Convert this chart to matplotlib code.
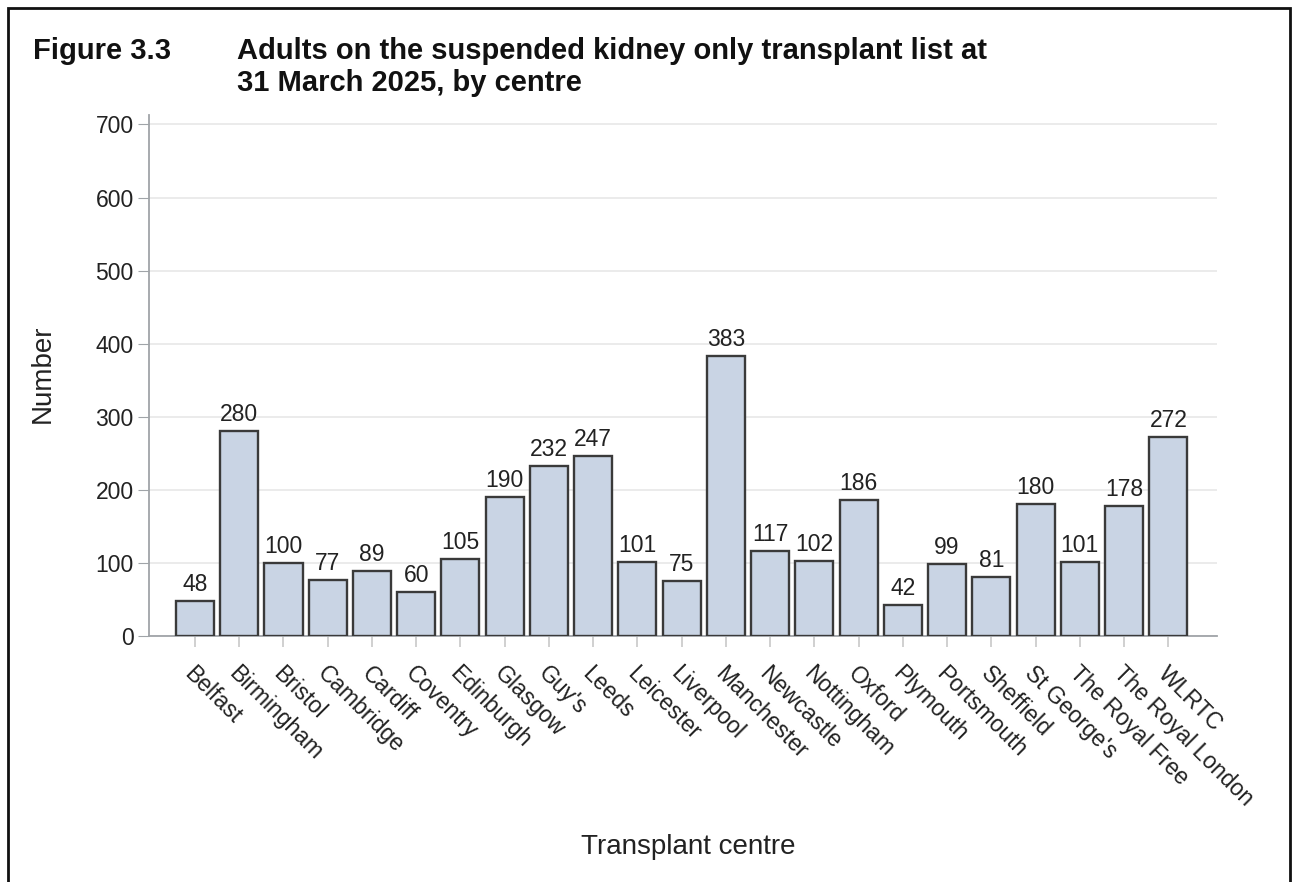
import matplotlib.pyplot as plt
from matplotlib.patches import Rectangle

plt.rcParams['font.family'] = ['Liberation Sans', 'DejaVu Sans']

centres = ["Belfast", "Birmingham", "Bristol", "Cambridge", "Cardiff", "Coventry",
           "Edinburgh", "Glasgow", "Guy's", "Leeds", "Leicester", "Liverpool",
           "Manchester", "Newcastle", "Nottingham", "Oxford", "Plymouth",
           "Portsmouth", "Sheffield", "St George's", "The Royal Free",
           "The Royal London", "WLRTC"]
counts = [48, 280, 100, 77, 89, 60, 105, 190, 232, 247, 101, 75,
          383, 117, 102, 186, 42, 99, 81, 180, 101, 178, 272]
yticks = [0, 100, 200, 300, 400, 500, 600, 700]

W, H = 1295, 882
fig = plt.figure(figsize=(W / 100, H / 100), dpi=100)
ax = fig.add_axes([149 / W, 1 - 636 / H, (1217 - 149) / W, (636 - 115) / H])

x = list(range(len(centres)))
ax.bar(x, counts, width=0.86, color='#c9d4e4', edgecolor='#3a3a3a',
       linewidth=1.7, zorder=3)
for xi, v in zip(x, counts):
    ax.annotate(str(v), xy=(xi, v), xytext=(0, 5), textcoords='offset pixels',
                ha='center', va='bottom', fontsize=16.5, color='#222222')

ax.set_xlim(-1.04, len(centres) - 1 + 1.1)
ax.set_ylim(0, 713)
ax.set_yticks(yticks)
ax.set_xticks(x)
ax.set_xticklabels([])
ax.yaxis.grid(True, color='#e8e8e8', linewidth=1.2, zorder=0)
ax.set_axisbelow(True)
for s in ['top', 'right']:
    ax.spines[s].set_visible(False)
for s in ['left', 'bottom']:
    ax.spines[s].set_color('#a0a4a8')
    ax.spines[s].set_linewidth(1.3)
ax.tick_params(axis='y', length=8, color='#a0a4a8', labelsize=16.5, labelcolor='#222222', pad=3)
ax.tick_params(axis='x', length=8, color='#c8c8c8', width=1.2)

for xi, name in zip(x, centres):
    ax.annotate(name, xy=(xi, 0), xycoords=('data', 'axes fraction'),
                xytext=(-7, -34), textcoords='offset pixels',
                rotation=-45, rotation_mode='anchor', ha='left', va='center',
                fontsize=16.5, color='#222222')

fig.text(43 / W, 1 - 374 / H, 'Number', rotation=90, ha='center', va='center',
         fontsize=20, color='#222222')
fig.text(688 / W, 1 - 847 / H, 'Transplant centre', ha='center', va='center',
         fontsize=20, color='#222222')

fig.text(33 / W, 1 - 37 / H, 'Figure 3.3', ha='left', va='top',
         fontsize=21, fontweight='bold', color='#111111')
fig.text(237 / W, 1 - 37 / H,
         'Adults on the suspended kidney only transplant list at\n31 March 2025, by centre',
         ha='left', va='top', fontsize=21, fontweight='bold', color='#111111',
         linespacing=1.2)

fig.patches.append(Rectangle((8 / W, -0.02), (1290 - 8) / W, 1 - 8 / H + 0.02,
                             transform=fig.transFigure, fill=False,
                             edgecolor='#111111', linewidth=2))

fig.savefig('out.png', dpi=100)
